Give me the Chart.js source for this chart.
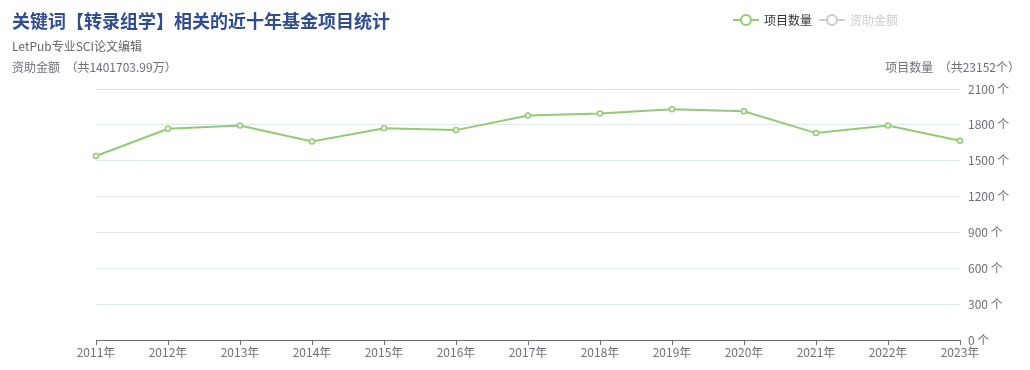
<!DOCTYPE html>
<html>
<head>
<meta charset="utf-8">
<script src="https://cdn.jsdelivr.net/npm/chart.js@4"></script>
<style>
  html, body { margin: 0; padding: 0; background: #fff; }
  body { width: 1030px; height: 370px; position: relative; overflow: hidden;
         font-family: "Noto Sans CJK SC", "Noto Sans", sans-serif; }
  #wrap { position: absolute; left: 0; top: 0; width: 1030px; height: 370px; }
  .txt { position: absolute; white-space: nowrap; line-height: 1; }
  #title { left: 12px; top: 11px; font-size: 18px; font-weight: bold; color: #2f4d8f; }
  #sub { left: 12px; top: 40px; font-size: 12px; color: #666; }
  #leftName { left: 12px; top: 61px; font-size: 12px; color: #6e7079; }
  #rightName { right: 10px; top: 61px; font-size: 12px; color: #6e7079; }
  .leg { top: 13px; font-size: 12px; display: flex; align-items: center; }
  .leg svg { margin-right: 5px; }
  #leg1 { left: 733px; color: #333; }
  #leg2 { left: 819px; color: #ccc; }
</style>
</head>
<body>
<div id="wrap"><canvas id="c" width="1030" height="370"></canvas></div>
<div class="txt" id="title">关键词【转录组学】相关的近十年基金项目统计</div>
<div class="txt" id="sub">LetPub专业SCI论文编辑</div>
<div class="txt" id="leftName">资助金额 &nbsp;（共1401703.99万）</div>
<div class="txt" id="rightName">项目数量 &nbsp;（共23152个）</div>
<div class="txt leg" id="leg1"><svg width="26" height="14"><line x1="0" y1="7" x2="26" y2="7" stroke="#91cc75" stroke-width="2"/><circle cx="13" cy="7" r="5" fill="#fff" stroke="#91cc75" stroke-width="2"/></svg>项目数量</div>
<div class="txt leg" id="leg2"><svg width="26" height="14"><line x1="0" y1="7" x2="26" y2="7" stroke="#ccc" stroke-width="2"/><circle cx="13" cy="7" r="5" fill="#fff" stroke="#ccc" stroke-width="2"/></svg>资助金额</div>
<script>
// categories and series
const years = ['2011年', '2012年', '2013年', '2014年', '2015年', '2016年', '2017年',
  '2018年', '2019年', '2020年', '2021年', '2022年', '2023年'];
const projectCounts = [1539, 1767, 1794, 1661, 1772, 1756, 1878, 1894, 1931, 1914, 1731, 1794, 1667];
const countTicks = [0, 300, 600, 900, 1200, 1500, 1800, 2100];

const axisGray = '#6e7079';
const green = '#91cc75';

new Chart(document.getElementById('c'), {
  type: 'line',
  data: {
    labels: years,
    datasets: [{
      label: '项目数量',
      data: projectCounts,
      borderColor: green,
      borderWidth: 2,
      backgroundColor: '#fff',
      pointBackgroundColor: '#fff',
      pointBorderColor: green,
      pointBorderWidth: 1.5,
      pointRadius: 2.5,
      tension: 0,
      fill: false,
    }],
  },
  options: {
    responsive: false,
    animation: false,
    layout: { padding: { left: 96, top: 89, right: 0, bottom: 0 } },
    plugins: { legend: { display: false }, tooltip: { enabled: false } },
    scales: {
      x: {
        offset: false,
        grid: { drawOnChartArea: false, drawTicks: true, tickLength: 5, color: axisGray },
        border: { display: true, color: axisGray, width: 1 },
        ticks: {
          color: axisGray, padding: 0, maxRotation: 0, autoSkip: false,
          font: { size: 12, family: '"Noto Sans CJK SC", sans-serif' },
        },
        afterFit(scale) { scale.height = 30; },
      },
      y: {
        position: 'right',
        min: 0,
        max: 2100,
        afterBuildTicks(scale) { scale.ticks = countTicks.map((v) => ({ value: v })); },
        grid: { color: '#e0e6f1', drawTicks: false },
        border: { display: false },
        ticks: {
          color: axisGray, padding: 8,
          font: { size: 12, family: '"Noto Sans CJK SC", sans-serif' },
          callback(value) { return value + ' 个'; },
        },
        afterFit(scale) { scale.width = 70; },
      },
    },
  },
});
</script>
</body>
</html>
